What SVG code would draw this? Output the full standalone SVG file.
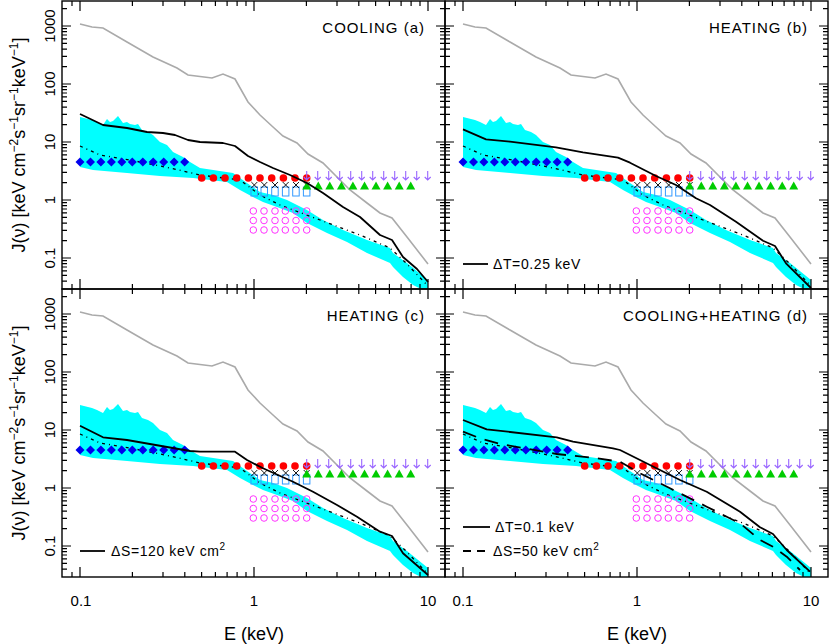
<svg xmlns="http://www.w3.org/2000/svg" xmlns:xlink="http://www.w3.org/1999/xlink" width="830" height="644" viewBox="0 0 830 644">
<style>
text{font-family:"Liberation Sans","DejaVu Sans",sans-serif;fill:#000}
.tl{font-size:15px}
.ttl{font-size:15px;text-anchor:end;letter-spacing:1px}
.lg{font-size:14px;letter-spacing:0.6px}
.ax{font-size:18px}
.blk{fill:none;stroke:#000;stroke-width:1.8;stroke-linejoin:round}
.gry{fill:none;stroke:#aaa;stroke-width:1.6}
.dot{fill:none;stroke:#000;stroke-width:1.3;stroke-dasharray:3 4 1 4}
.tk{fill:none;stroke:#000;stroke-width:1.2}
.frm{fill:none;stroke:#000;stroke-width:1.4}
.rc{fill:#ff0000}
.bd{fill:#0000ee}
.cr{fill:none;stroke:#000;stroke-width:0.9}
.sq{fill:none;stroke:#3399ff;stroke-width:1}
.tr{fill:#00cc00}
.ar{fill:none;stroke:#9966ff;stroke-width:1.1}
.mc{fill:none;stroke:#ff33ff;stroke-width:1}
</style>
<defs>
<clipPath id="cp"><rect x="62" y="1" width="383" height="288"/></clipPath>
<path id="dia" d="M0-4.5L4.5 0 0 4.5-4.5 0Z"/>
<path id="crs" d="M-3-3L3 3M-3 3L3-3"/>
<path id="tri" d="M0-4.5L4.5 3.5-4.5 3.5Z"/>
<path id="arw" d="M0-5V4M-3 1L0 4 3 1"/>
<path id="ytk" d="M0 26h9M0 84h9M0 142h9M0 200h9M0 258h9M0 8.54h5M0 66.54h5M0 56.33h5M0 49.08h5M0 43.46h5M0 38.87h5M0 34.98h5M0 31.62h5M0 28.65h5M0 124.54h5M0 114.33h5M0 107.08h5M0 101.46h5M0 96.87h5M0 92.98h5M0 89.62h5M0 86.65h5M0 182.54h5M0 172.33h5M0 165.08h5M0 159.46h5M0 154.87h5M0 150.98h5M0 147.62h5M0 144.65h5M0 240.54h5M0 230.33h5M0 223.08h5M0 217.46h5M0 212.87h5M0 208.98h5M0 205.62h5M0 202.65h5M0 260.65h5M0 263.62h5M0 266.98h5M0 270.87h5M0 275.46h5M0 281.08h5"/>
<path id="xtk" d="M18 0v-10M192 0v-10M366 0v-10M10 0v-5M70.4 0v-5M101 0v-5M122.8 0v-5M139.6 0v-5M153.4 0v-5M165.1 0v-5M175.1 0v-5M184 0v-5M244.4 0v-5M275 0v-5M296.8 0v-5M313.6 0v-5M327.4 0v-5M339.1 0v-5M349.1 0v-5M358 0v-5"/>
<g id="common">
<g clip-path="url(#cp)">
<polygon fill="#00ffff" points="80,117 92,120 97,122 103,125 107,119 110,122 113,121 118,116 123,123 127,122 130,124 135,125 138,124 142,130 148,132 153,135 160,142 167,145 173,152 183,157 190,162 200,168 233,173 240,178 247,183 260,192 273,195 287,200 307,210 323,220 343,230 367,240 390,248 393,253 407,263 428,280 428,300 423,290 413,285 403,277 393,267 390,263 367,253 347,242 327,233 307,223 293,213 277,207 263,202 253,197 240,190 227,182 193,178 160,176 127,173 93,170 80,167"/>
</g>
<polyline class="dot" points="80,146 100,155 130,160 170,168 200,175 240,180 260,195 280,205 320,220 360,235 390,248 405,262 428,286"/>
<polyline class="gry" points="80,24 92,27 103,28 127,42 153,57 177,68 188,75 212,78 223,74 235,79 248,102 260,115 273,127 283,136 297,143 308,154 323,163 337,177 350,190 367,203 380,213 392,218 407,237 428,264"/>
<g class="bd">
<use href="#dia" x="80" y="162"/><use href="#dia" x="90.5" y="162"/><use href="#dia" x="100.9" y="162"/><use href="#dia" x="111.4" y="162"/><use href="#dia" x="121.8" y="162"/><use href="#dia" x="132.3" y="162"/><use href="#dia" x="142.8" y="162"/><use href="#dia" x="153.2" y="162"/><use href="#dia" x="163.7" y="162"/><use href="#dia" x="174.1" y="162"/><use href="#dia" x="184.6" y="162"/>
</g>
<g class="rc">
<circle cx="201.7" cy="178" r="3.8"/><circle cx="213.4" cy="178" r="3.8"/><circle cx="225" cy="178" r="3.8"/><circle cx="236.7" cy="178" r="3.8"/><circle cx="248.4" cy="178" r="3.8"/><circle cx="260" cy="178" r="3.8"/><circle cx="271.7" cy="178" r="3.8"/><circle cx="283.4" cy="178" r="3.8"/><circle cx="295" cy="178" r="3.8"/><circle cx="306.7" cy="178" r="3.8"/>
</g>
<g class="sq">
<rect x="251" y="187" width="6.5" height="9"/><rect x="261" y="187" width="6.5" height="9"/><rect x="271.7" y="187" width="6.5" height="9"/><rect x="282.4" y="187" width="6.5" height="9"/><rect x="292.7" y="187" width="6.5" height="9"/><rect x="303.4" y="187" width="6.5" height="9"/>
</g>
<g class="cr">
<use href="#crs" x="254.3" y="185"/><use href="#crs" x="264.3" y="185"/><use href="#crs" x="275" y="185"/><use href="#crs" x="285.7" y="185"/><use href="#crs" x="296" y="185"/><use href="#crs" x="306.7" y="185"/>
</g>
<g class="tr">
<use href="#tri" x="306.7" y="186"/><use href="#tri" x="318.3" y="186"/><use href="#tri" x="329.8" y="186"/><use href="#tri" x="341.4" y="186"/><use href="#tri" x="352.9" y="186"/><use href="#tri" x="364.5" y="186"/><use href="#tri" x="376" y="186"/><use href="#tri" x="387.6" y="186"/><use href="#tri" x="399.2" y="186"/><use href="#tri" x="410.7" y="186"/>
</g>
<g class="ar">
<use href="#arw" x="306.7" y="176"/><use href="#arw" x="317.7" y="176"/><use href="#arw" x="328.7" y="176"/><use href="#arw" x="339.7" y="176"/><use href="#arw" x="350.7" y="176"/><use href="#arw" x="361.7" y="176"/><use href="#arw" x="372.7" y="176"/><use href="#arw" x="383.7" y="176"/><use href="#arw" x="394.7" y="176"/><use href="#arw" x="405.7" y="176"/><use href="#arw" x="416.7" y="176"/><use href="#arw" x="427.7" y="176"/>
</g>
<g class="mc">
<circle cx="253.3" cy="211" r="3.3"/><circle cx="264" cy="211" r="3.3"/><circle cx="275" cy="211" r="3.3"/><circle cx="285.3" cy="211" r="3.3"/><circle cx="296" cy="211" r="3.3"/><circle cx="306.7" cy="211" r="3.3"/>
<circle cx="253.3" cy="220.5" r="3.3"/><circle cx="264" cy="220.5" r="3.3"/><circle cx="275" cy="220.5" r="3.3"/><circle cx="285.3" cy="220.5" r="3.3"/><circle cx="296" cy="220.5" r="3.3"/><circle cx="306.7" cy="220.5" r="3.3"/>
<circle cx="253.3" cy="230" r="3.3"/><circle cx="264" cy="230" r="3.3"/><circle cx="275" cy="230" r="3.3"/><circle cx="285.3" cy="230" r="3.3"/><circle cx="296" cy="230" r="3.3"/><circle cx="306.7" cy="230" r="3.3"/>
</g>
<g class="tk">
<use href="#ytk" x="62"/>
<g transform="translate(445,0) scale(-1,1)"><use href="#ytk"/></g>
<use href="#xtk" x="62" y="289"/>
<g transform="translate(62,1) scale(1,-1)"><use href="#xtk"/></g>
</g>
<rect class="frm" x="62" y="1" width="383" height="288"/>
</g>
</defs>

<g id="panel-a">
<use href="#common"/>
<polyline class="blk" points="80,114 103,125 127,128 147,132 163,133 175,135 188,140 200,142 223,143 235,146 248,156 260,162 273,168 290,175 307,183 323,193 343,207 360,217 380,235 392,240 403,257 417,269 428,282"/>
<text class="ttl" x="425" y="33">COOLING (a)</text>
</g>

<g id="panel-b">
<use href="#common" transform="translate(383,0)"/>
<polyline class="blk" transform="translate(383,0)" points="80,129.3 103,139.3 127,141.7 173,147.3 200,152.3 235,157.7 247,162.7 273,176 293,185 313,198.3 327,205 353,221.7 380,240.7 392,246 403,263.3 428,288"/>
<text class="ttl" x="808" y="33">HEATING (b)</text>
<path class="blk" d="M463 264H488"/>
<text class="lg" x="493" y="269">ΔT=0.25 keV</text>
</g>

<g id="panel-c">
<use href="#common" transform="translate(0,288)"/>
<polyline class="blk" transform="translate(0,288)" points="80,137.7 103,149.3 127,152 190,163 200,163.7 235,163.7 247,172 263,180.3 293,193.7 313,203.7 337,217 357,228.7 380,243.7 392,248 403,265.3 428,287"/>
<text class="ttl" x="425" y="321">HEATING (c)</text>
<path class="blk" d="M80 551H105"/>
<text class="lg" x="111" y="556">ΔS=120 keV cm<tspan font-size="10" dy="-6">2</tspan></text>
</g>

<g id="panel-d">
<use href="#common" transform="translate(383,288)"/>
<polyline class="blk" transform="translate(383,288)" points="80,132 103.7,141.3 173.7,149.3 190,153.7 230,160.3 237,162 257,172 297,192 323.7,203.7 357,223.7 377,239.3 390,246 403.7,262 427,283.7"/>
<polyline class="blk" style="stroke-dasharray:14 9" transform="translate(383,288)" points="80,143.7 97,150.3 117,156 173.7,166 213.7,170.3 237,173.7 257,185.3 287,200.3 323.7,218.7 357,235.3 377,252 390,258.7 403.7,268.7 417,282"/>
<text class="ttl" x="808" y="321">COOLING+HEATING (d)</text>
<path class="blk" d="M463 527H490"/>
<text class="lg" x="495" y="532">ΔT=0.1 keV</text>
<path class="blk" d="M463 551H471M477 551H485"/>
<text class="lg" x="493" y="556">ΔS=50 keV cm<tspan font-size="10" dy="-6">2</tspan></text>
</g>

<g id="axes-labels">
<g class="tl" text-anchor="middle">
<text x="81" y="606">0.1</text><text x="254" y="606">1</text><text x="428" y="606">10</text>
<text x="463" y="606">0.1</text><text x="637" y="606">1</text><text x="811" y="606">10</text>
<text transform="translate(55,26) rotate(-90)">1000</text>
<text transform="translate(55,84) rotate(-90)">100</text>
<text transform="translate(55,142) rotate(-90)">10</text>
<text transform="translate(55,200) rotate(-90)">1</text>
<text transform="translate(55,258) rotate(-90)">0.1</text>
<text transform="translate(55,314) rotate(-90)">1000</text>
<text transform="translate(55,372) rotate(-90)">100</text>
<text transform="translate(55,430) rotate(-90)">10</text>
<text transform="translate(55,488) rotate(-90)">1</text>
<text transform="translate(55,546) rotate(-90)">0.1</text>
</g>
<text class="ax" x="254" y="640" text-anchor="middle">E (keV)</text>
<text class="ax" x="637" y="640" text-anchor="middle">E (keV)</text>
<text class="ax" text-anchor="middle" transform="translate(25,145) rotate(-90)">J(ν) [keV cm<tspan font-size="12" dy="-7">−2</tspan><tspan dy="7">s</tspan><tspan font-size="12" dy="-7">−1</tspan><tspan dy="7">sr</tspan><tspan font-size="12" dy="-7">−1</tspan><tspan dy="7">keV</tspan><tspan font-size="12" dy="-7">−1</tspan><tspan dy="7">]</tspan></text>
<text class="ax" text-anchor="middle" transform="translate(25,433) rotate(-90)">J(ν) [keV cm<tspan font-size="12" dy="-7">−2</tspan><tspan dy="7">s</tspan><tspan font-size="12" dy="-7">−1</tspan><tspan dy="7">sr</tspan><tspan font-size="12" dy="-7">−1</tspan><tspan dy="7">keV</tspan><tspan font-size="12" dy="-7">−1</tspan><tspan dy="7">]</tspan></text>
</g>
</svg>
